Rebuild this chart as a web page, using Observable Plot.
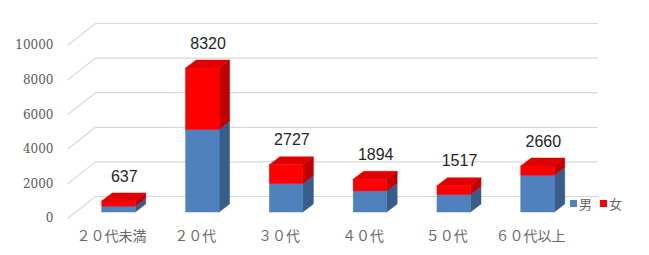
<!DOCTYPE html>
<html>
<head>
<meta charset="utf-8">
<script src="https://cdn.jsdelivr.net/npm/d3@7"></script>
<script src="https://cdn.jsdelivr.net/npm/@observablehq/plot@0.6"></script>
<style>
  html, body { margin: 0; padding: 0; background: #fff; }
  #chart { position: relative; width: 649px; height: 255px; overflow: hidden; }
  #legend { position: absolute; left: 570px; top: 194px; font: 13px "Noto Sans CJK JP", sans-serif; color: #666; display: flex; align-items: center; }
  #legend .sw { display: inline-block; width: 7px; height: 7px; margin-right: 2px; }
  #legend .item { display: flex; align-items: center; margin-right: 8px; }
</style>
</head>
<body>
<div id="chart"></div>
<script>
// Age groups, male / female counts (stacked), and axis ticks
const categories = ["２０代未満", "２０代", "３０代", "４０代", "５０代", "６０代以上"];
const male   = [340, 4780, 1650, 1220, 1010, 2130];
const female = [297, 3540, 1077,  674,  507,  530];
const totals = categories.map((_, i) => male[i] + female[i]);
const yTicks = [0, 2000, 4000, 6000, 8000, 10000];
const seriesNames = ["男", "女"];

// Pseudo-3D geometry, in scale units (x: category index, y: value)
const halfW = 0.2;                       // half bar width
const barOff = { x: 0.09, y: 347 };      // bar plane offset behind the front plane
const barDepth = { x: 0.125, y: 462 };   // bar depth
const wall = { x0: -0.525, x1: 5.81, dx: 0.334, dy: 1272 };

const colors = {
  "男": { front: "#4f81bd", side: "#385d8a", top: "#5b8cc6" },
  "女": { front: "#ff0000", side: "#c00000", top: "#e00000" }
};

// Build stacked segments
const fronts = [], sides = [], tops = [];
categories.forEach((c, i) => {
  const xl = i + barOff.x - halfW, xr = i + barOff.x + halfW;
  let base = barOff.y;
  [male[i], female[i]].forEach((v, s) => {
    const name = seriesNames[s];
    const top = base + v;
    const id = c + name;
    fronts.push({ id, x1: xl, x2: xr, y1: base, y2: top, fill: colors[name].front });
    sides.push({ id, x: xr, y1: base, y2: top, fill: colors[name].side });
    sides.push({ id, x: xr + barDepth.x, y1: base + barDepth.y, y2: top + barDepth.y, fill: colors[name].side });
    if (s === 1) {
      tops.push({ id, y: top, x1: xl, x2: xr, fill: colors[name].top });
      tops.push({ id, y: top + barDepth.y, x1: xl + barDepth.x, x2: xr + barDepth.x, fill: colors[name].top });
    }
    base = top;
  });
});

const grid = "#d9d9d9";

const plot = Plot.plot({
  width: 649,
  height: 255,
  x: { type: "linear", domain: [0, 5], range: [111, 530], axis: null },
  y: { type: "linear", domain: [0, 10000], range: [218, 45], axis: null },
  style: { background: "#fff", overflow: "visible" },
  marks: [
    // back wall gridlines
    Plot.ruleY(yTicks, { y: d => d + wall.dy, x1: wall.x0 + wall.dx, x2: wall.x1, stroke: grid, strokeWidth: 1.2 }),
    // side wall gridlines
    Plot.link(yTicks, { x1: wall.x0, y1: d => d, x2: wall.x0 + wall.dx, y2: d => d + wall.dy, stroke: grid, strokeWidth: 1.2 }),
    // bar side faces
    Plot.areaY(sides, { x: "x", y1: "y1", y2: "y2", z: "id", fill: "fill", stroke: "fill", strokeWidth: 0.5 }),
    // bar top faces
    Plot.areaX(tops, { y: "y", x1: "x1", x2: "x2", z: "id", fill: "fill", stroke: "fill", strokeWidth: 0.5 }),
    // bar front faces
    Plot.rect(fronts, { x1: "x1", x2: "x2", y1: "y1", y2: "y2", fill: "fill", stroke: "fill", strokeWidth: 0.5 }),
    // value axis labels
    Plot.text(yTicks, { x: wall.x0, y: d => d, dx: -14, text: d => String(d), textAnchor: "end",
      fill: "#595959", fontSize: 12, fontFamily: "'DejaVu Serif', 'Liberation Serif', serif" }),
    // category labels
    Plot.text(categories, { x: (d, i) => i, y: 0, dy: 18, text: d => d,
      fill: "#6a6a6a", fontSize: 14, fontFamily: "'Noto Sans CJK JP', sans-serif" }),
    // total labels
    Plot.text(totals, { x: (d, i) => i + barOff.x + barDepth.x / 2, y: d => d + barOff.y + barDepth.y, dy: -17,
      text: d => String(d), fill: "#262626", fontSize: 16, fontFamily: "'Liberation Sans', Arial, sans-serif", ariaLabel: "totals" })
  ]
});

d3.select(plot).selectAll('g[aria-label="totals"] text').attr("letter-spacing", "1.5px");

const chart = document.getElementById("chart");
chart.appendChild(plot);

// legend
const legend = document.createElement("div");
legend.id = "legend";
seriesNames.forEach(name => {
  const item = document.createElement("span");
  item.className = "item";
  const sw = document.createElement("span");
  sw.className = "sw";
  sw.style.background = colors[name].front;
  item.appendChild(sw);
  item.appendChild(document.createTextNode(name));
  legend.appendChild(item);
});
chart.appendChild(legend);
</script>
</body>
</html>
